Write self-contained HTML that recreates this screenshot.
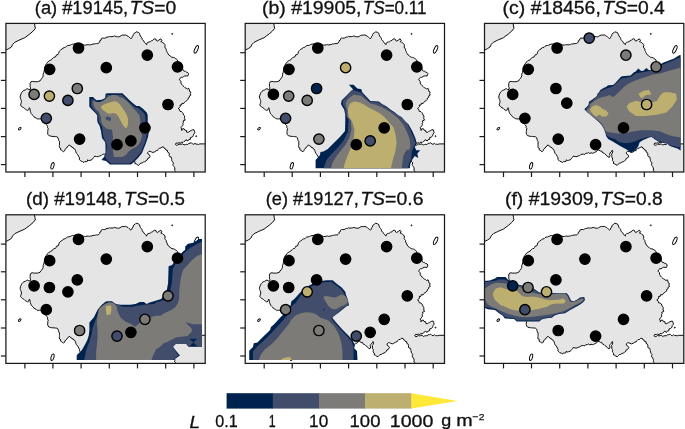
<!DOCTYPE html>
<html><head><meta charset="utf-8"><style>
html,body{margin:0;padding:0;background:#fff;}
svg{display:block;will-change:transform;}
text{font-family:"Liberation Sans",sans-serif;font-size:18px;fill:#111;stroke:#111;stroke-width:0.3px;}
text.cb{font-size:16.5px;}
</style></head><body>
<svg width="685" height="429" viewBox="0 0 685 429">
<defs>
<clipPath id="dom"><rect x="0" y="0" width="202" height="168.5"/></clipPath>
<path id="landfill" d="M20.1,97.0 L20.6,95.0 L21.4,93.2 L21.9,92.2 L22.7,91.3 L23.9,90.4 L25.3,90.0 L26.6,89.0 L27.8,88.7 L28.9,89.6 L30.4,89.4 L30.6,87.8 L30.1,86.8 L30.2,85.2 L30.1,83.6 L31.0,81.7 L32.6,81.4 L34.2,81.7 L35.8,81.7 L37.4,81.7 L38.7,81.3 L40.0,81.0 L40.7,79.5 L41.9,78.5 L42.6,77.2 L43.2,75.9 L43.1,74.2 L43.8,72.7 L44.1,71.1 L44.5,69.5 L44.5,68.1 L44.8,66.9 L45.4,65.7 L45.8,64.4 L46.8,63.7 L47.3,62.5 L48.3,61.8 L49.1,60.8 L50.3,60.3 L51.5,59.8 L52.2,58.6 L53.2,58.0 L54.0,57.2 L55.3,57.1 L56.0,56.0 L56.5,54.8 L58.0,54.6 L58.6,53.5 L59.2,51.5 L60.1,50.5 L61.1,49.5 L62.4,49.0 L63.1,48.0 L64.2,47.5 L65.5,47.3 L66.3,46.4 L67.5,45.6 L68.9,45.5 L70.2,45.1 L71.4,44.5 L72.6,44.1 L73.8,44.1 L75.0,43.8 L76.1,43.4 L77.3,43.4 L78.4,43.9 L79.7,43.8 L80.8,44.6 L82.0,44.5 L83.2,44.7 L84.4,45.1 L85.7,45.1 L86.9,44.8 L88.2,44.6 L89.5,45.0 L90.7,44.6 L91.9,44.6 L93.0,43.9 L94.2,44.0 L95.4,43.7 L96.6,43.5 L97.8,43.6 L98.9,42.9 L99.7,42.0 L99.8,40.7 L101.1,40.1 L101.2,38.8 L102.3,38.1 L103.5,38.1 L104.8,38.2 L105.9,37.6 L107.0,37.0 L108.2,37.1 L109.3,36.4 L110.6,36.7 L112.0,36.6 L113.3,36.5 L114.6,35.9 L116.4,36.7 L117.6,36.7 L118.8,36.9 L119.9,36.4 L121.3,35.5 L122.8,35.0 L124.3,35.2 L125.7,34.9 L126.9,35.6 L128.1,36.2 L129.0,37.1 L130.1,37.9 L131.0,38.8 L131.9,37.8 L132.2,36.4 L133.2,35.7 L133.3,34.5 L133.9,33.5 L135.2,32.8 L136.2,31.8 L138.3,32.4 L139.5,33.3 L139.8,34.7 L140.4,36.0 L141.2,37.1 L142.1,38.2 L142.2,39.5 L142.9,40.4 L144.0,41.2 L144.4,42.3 L145.3,43.0 L145.9,44.0 L146.8,44.6 L146.9,43.2 L147.9,42.3 L149.1,42.0 L150.3,41.7 L151.3,40.8 L152.6,40.5 L153.5,39.3 L154.9,38.8 L156.0,39.2 L156.3,40.5 L157.3,41.1 L159.0,40.0 L160.8,38.8 L161.9,40.5 L160.8,41.7 L162.1,41.9 L163.1,42.9 L164.2,43.5 L164.9,44.6 L165.2,45.7 L164.8,47.0 L165.4,48.1 L166.3,49.1 L166.3,50.5 L166.9,51.5 L167.3,52.6 L167.9,53.6 L168.8,55.0 L170.2,55.9 L171.0,56.7 L172.0,57.3 L173.2,57.4 L174.3,57.7 L175.3,58.4 L176.3,59.0 L177.3,59.9 L177.8,61.3 L178.7,62.3 L180.0,63.0 L180.8,63.8 L181.3,64.8 L181.8,65.9 L182.0,67.0 L182.7,68.1 L182.8,69.3 L183.2,70.5 L184.2,71.1 L185.4,71.3 L186.3,72.1 L187.7,72.4 L188.6,73.6 L188.3,74.8 L187.9,75.9 L186.4,76.0 L184.8,75.9 L183.6,76.6 L182.5,77.4 L181.2,77.3 L180.2,78.2 L179.4,79.8 L180.9,81.3 L180.9,82.9 L181.7,84.4 L182.8,85.6 L184.0,86.7 L185.0,87.7 L186.3,88.2 L187.2,89.1 L188.8,88.4 L189.4,89.8 L189.5,91.4 L190.9,92.1 L190.3,93.6 L190.9,95.1 L189.5,95.8 L189.4,97.4 L188.1,98.1 L187.9,99.6 L186.8,100.7 L185.5,101.4 L184.5,102.3 L183.8,103.5 L182.0,103.3 L181.6,105.0 L180.0,105.0 L180.2,106.6 L179.3,107.7 L178.2,108.6 L179.4,109.2 L179.7,110.3 L180.0,111.4 L181.6,111.6 L182.5,112.5 L183.2,113.6 L183.6,115.0 L184.7,116.0 L184.5,117.3 L184.5,118.6 L185.2,120.1 L183.1,120.9 L183.6,122.3 L182.8,123.3 L183.2,124.8 L182.4,125.8 L181.7,126.8 L180.9,127.7 L181.6,129.0 L181.8,130.5 L182.3,129.0 L183.9,128.6 L184.7,130.1 L186.4,130.4 L186.6,132.1 L188.2,132.3 L189.1,131.6 L190.1,131.1 L191.3,130.4 L192.5,129.8 L193.9,129.7 L194.4,131.1 L194.9,132.8 L193.7,134.1 L193.4,135.3 L192.9,136.4 L191.9,137.2 L190.4,137.5 L190.3,139.4 L188.8,139.6 L187.9,141.0 L186.0,139.7 L185.1,141.0 L183.9,141.5 L182.9,142.5 L181.4,142.0 L180.5,143.4 L179.0,142.7 L177.8,143.2 L176.2,143.0 L175.4,144.5 L176.6,145.3 L177.9,144.9 L179.1,144.0 L180.3,144.5 L181.5,144.2 L182.8,143.8 L184.0,145.1 L185.2,144.5 L186.4,144.3 L187.8,144.5 L188.8,143.3 L190.1,143.3 L191.3,142.7 L192.6,144.0 L193.8,144.3 L195.0,143.3 L196.1,144.2 L197.4,144.2 L198.6,144.4 L199.9,143.9 L210.0,143.9 L210.0,180.0 L175.4,180.0 L175.4,172.6 L175.7,171.3 L174.5,170.3 L174.9,169.0 L174.7,167.8 L174.1,166.6 L173.2,165.6 L172.9,164.3 L173.5,162.9 L172.5,161.9 L171.9,160.7 L171.7,159.3 L171.4,158.2 L171.2,157.0 L169.7,156.6 L169.2,155.6 L169.3,154.0 L168.8,152.7 L167.4,151.9 L167.5,150.4 L165.9,150.0 L165.5,148.8 L164.2,148.3 L163.7,147.0 L161.9,147.0 L160.9,148.1 L159.4,148.2 L158.2,149.4 L157.6,150.5 L156.3,150.7 L154.5,151.9 L152.9,152.5 L151.4,151.9 L150.3,151.4 L149.0,151.3 L147.8,152.5 L147.8,153.8 L149.0,154.4 L150.2,156.2 L149.0,158.0 L147.6,158.5 L147.2,159.9 L146.0,160.8 L144.7,161.7 L143.3,162.1 L142.2,163.0 L140.7,163.1 L139.8,164.2 L138.7,165.3 L137.3,164.8 L136.2,163.9 L134.9,163.5 L135.0,161.7 L133.7,160.5 L134.0,159.2 L133.8,158.0 L133.1,156.8 L133.3,155.6 L132.9,154.2 L133.7,153.1 L134.2,151.6 L133.7,150.1 L133.3,151.2 L132.4,151.9 L131.6,153.0 L130.9,154.2 L131.5,155.6 L130.6,157.5 L129.2,156.6 L128.1,155.8 L127.3,154.7 L126.3,154.1 L125.5,153.3 L123.6,152.4 L123.1,151.0 L121.7,151.0 L120.3,150.0 L118.9,150.3 L118.0,151.4 L116.1,152.4 L114.9,153.0 L113.7,153.2 L112.4,152.8 L111.2,153.5 L109.9,152.6 L108.7,153.3 L107.3,153.2 L106.3,154.4 L104.9,154.2 L103.5,154.2 L102.2,154.5 L101.2,155.6 L99.7,155.9 L98.4,156.6 L96.5,156.6 L94.6,156.1 L94.1,157.2 L93.2,158.0 L92.4,158.9 L91.8,159.8 L90.0,160.3 L88.7,160.6 L87.6,159.8 L87.5,161.2 L86.2,161.7 L84.8,161.5 L83.9,162.6 L82.6,161.7 L81.1,161.2 L80.2,160.3 L79.2,159.4 L79.6,157.9 L78.7,156.6 L77.8,154.7 L76.4,153.3 L75.9,151.9 L75.5,150.5 L74.9,149.2 L73.6,148.6 L73.2,147.5 L71.8,147.3 L71.3,146.2 L70.1,145.8 L69.2,144.8 L68.4,146.1 L67.1,146.9 L66.7,148.0 L65.6,148.6 L65.0,149.6 L64.6,150.8 L63.7,151.7 L62.6,151.1 L61.6,150.3 L60.5,149.7 L60.7,148.1 L59.5,147.6 L59.3,146.4 L59.4,145.3 L59.5,144.1 L59.4,142.9 L59.6,141.7 L58.8,140.6 L58.4,139.2 L58.1,137.8 L56.9,136.8 L55.3,136.6 L54.1,136.5 L53.0,136.4 L51.8,136.4 L50.4,136.0 L49.0,135.7 L48.0,134.5 L47.6,132.9 L47.8,131.5 L47.8,130.1 L48.3,128.7 L47.5,127.7 L47.6,126.3 L46.9,125.2 L46.0,124.3 L45.4,123.1 L44.9,122.0 L44.0,121.0 L42.9,120.3 L41.7,119.7 L40.6,118.9 L39.4,118.9 L38.3,118.9 L37.1,118.9 L36.2,118.0 L35.0,117.5 L33.9,116.8 L33.2,115.6 L32.2,114.7 L31.3,113.8 L30.8,112.6 L30.3,111.2 L30.1,109.8 L29.9,108.7 L29.4,107.7 L29.0,108.7 L28.7,109.8 L27.3,110.5 L26.3,109.8 L25.2,109.1 L24.4,108.3 L23.5,107.6 L22.4,107.2 L21.4,106.1 L20.5,104.9 L20.9,103.8 L21.2,102.7 L21.5,101.6 L21.2,100.4 L20.9,99.3 L20.4,98.2 Z M34.5,15.0 L34.5,23.4 L34.9,26.0 L35.3,28.5 L33.2,31.0 L29.9,33.9 L24.8,37.7 L19.0,40.2 L14.8,42.3 L12.7,44.4 L11.4,47.0 L8.9,48.6 L5.9,50.1 L0.0,50.1 L0.0,15.0 Z" fill="#e5e5e5"/>
<g id="landline" fill="none" stroke="#000" stroke-width="0.95" stroke-linejoin="round"><path d="M20.1,97.0 L20.6,95.0 L21.4,93.2 L21.9,92.2 L22.7,91.3 L23.9,90.4 L25.3,90.0 L26.6,89.0 L27.8,88.7 L28.9,89.6 L30.4,89.4 L30.6,87.8 L30.1,86.8 L30.2,85.2 L30.1,83.6 L31.0,81.7 L32.6,81.4 L34.2,81.7 L35.8,81.7 L37.4,81.7 L38.7,81.3 L40.0,81.0 L40.7,79.5 L41.9,78.5 L42.6,77.2 L43.2,75.9 L43.1,74.2 L43.8,72.7 L44.1,71.1 L44.5,69.5 L44.5,68.1 L44.8,66.9 L45.4,65.7 L45.8,64.4 L46.8,63.7 L47.3,62.5 L48.3,61.8 L49.1,60.8 L50.3,60.3 L51.5,59.8 L52.2,58.6 L53.2,58.0 L54.0,57.2 L55.3,57.1 L56.0,56.0 L56.5,54.8 L58.0,54.6 L58.6,53.5 L59.2,51.5 L60.1,50.5 L61.1,49.5 L62.4,49.0 L63.1,48.0 L64.2,47.5 L65.5,47.3 L66.3,46.4 L67.5,45.6 L68.9,45.5 L70.2,45.1 L71.4,44.5 L72.6,44.1 L73.8,44.1 L75.0,43.8 L76.1,43.4 L77.3,43.4 L78.4,43.9 L79.7,43.8 L80.8,44.6 L82.0,44.5 L83.2,44.7 L84.4,45.1 L85.7,45.1 L86.9,44.8 L88.2,44.6 L89.5,45.0 L90.7,44.6 L91.9,44.6 L93.0,43.9 L94.2,44.0 L95.4,43.7 L96.6,43.5 L97.8,43.6 L98.9,42.9 L99.7,42.0 L99.8,40.7 L101.1,40.1 L101.2,38.8 L102.3,38.1 L103.5,38.1 L104.8,38.2 L105.9,37.6 L107.0,37.0 L108.2,37.1 L109.3,36.4 L110.6,36.7 L112.0,36.6 L113.3,36.5 L114.6,35.9 L116.4,36.7 L117.6,36.7 L118.8,36.9 L119.9,36.4 L121.3,35.5 L122.8,35.0 L124.3,35.2 L125.7,34.9 L126.9,35.6 L128.1,36.2 L129.0,37.1 L130.1,37.9 L131.0,38.8 L131.9,37.8 L132.2,36.4 L133.2,35.7 L133.3,34.5 L133.9,33.5 L135.2,32.8 L136.2,31.8 L138.3,32.4 L139.5,33.3 L139.8,34.7 L140.4,36.0 L141.2,37.1 L142.1,38.2 L142.2,39.5 L142.9,40.4 L144.0,41.2 L144.4,42.3 L145.3,43.0 L145.9,44.0 L146.8,44.6 L146.9,43.2 L147.9,42.3 L149.1,42.0 L150.3,41.7 L151.3,40.8 L152.6,40.5 L153.5,39.3 L154.9,38.8 L156.0,39.2 L156.3,40.5 L157.3,41.1 L159.0,40.0 L160.8,38.8 L161.9,40.5 L160.8,41.7 L162.1,41.9 L163.1,42.9 L164.2,43.5 L164.9,44.6 L165.2,45.7 L164.8,47.0 L165.4,48.1 L166.3,49.1 L166.3,50.5 L166.9,51.5 L167.3,52.6 L167.9,53.6 L168.8,55.0 L170.2,55.9 L171.0,56.7 L172.0,57.3 L173.2,57.4 L174.3,57.7 L175.3,58.4 L176.3,59.0 L177.3,59.9 L177.8,61.3 L178.7,62.3 L180.0,63.0 L180.8,63.8 L181.3,64.8 L181.8,65.9 L182.0,67.0 L182.7,68.1 L182.8,69.3 L183.2,70.5 L184.2,71.1 L185.4,71.3 L186.3,72.1 L187.7,72.4 L188.6,73.6 L188.3,74.8 L187.9,75.9 L186.4,76.0 L184.8,75.9 L183.6,76.6 L182.5,77.4 L181.2,77.3 L180.2,78.2 L179.4,79.8 L180.9,81.3 L180.9,82.9 L181.7,84.4 L182.8,85.6 L184.0,86.7 L185.0,87.7 L186.3,88.2 L187.2,89.1 L188.8,88.4 L189.4,89.8 L189.5,91.4 L190.9,92.1 L190.3,93.6 L190.9,95.1 L189.5,95.8 L189.4,97.4 L188.1,98.1 L187.9,99.6 L186.8,100.7 L185.5,101.4 L184.5,102.3 L183.8,103.5 L182.0,103.3 L181.6,105.0 L180.0,105.0 L180.2,106.6 L179.3,107.7 L178.2,108.6 L179.4,109.2 L179.7,110.3 L180.0,111.4 L181.6,111.6 L182.5,112.5 L183.2,113.6 L183.6,115.0 L184.7,116.0 L184.5,117.3 L184.5,118.6 L185.2,120.1 L183.1,120.9 L183.6,122.3 L182.8,123.3 L183.2,124.8 L182.4,125.8 L181.7,126.8 L180.9,127.7 L181.6,129.0 L181.8,130.5 L182.3,129.0 L183.9,128.6 L184.7,130.1 L186.4,130.4 L186.6,132.1 L188.2,132.3 L189.1,131.6 L190.1,131.1 L191.3,130.4 L192.5,129.8 L193.9,129.7 L194.4,131.1 L194.9,132.8 L193.7,134.1 L193.4,135.3 L192.9,136.4 L191.9,137.2 L190.4,137.5 L190.3,139.4 L188.8,139.6 L187.9,141.0 L186.0,139.7 L185.1,141.0 L183.9,141.5 L182.9,142.5 L181.4,142.0 L180.5,143.4 L179.0,142.7 L177.8,143.2 L176.2,143.0 L175.4,144.5 L176.6,145.3 L177.9,144.9 L179.1,144.0 L180.3,144.5 L181.5,144.2 L182.8,143.8 L184.0,145.1 L185.2,144.5 L186.4,144.3 L187.8,144.5 L188.8,143.3 L190.1,143.3 L191.3,142.7 L192.6,144.0 L193.8,144.3 L195.0,143.3 L196.1,144.2 L197.4,144.2 L198.6,144.4 L199.9,143.9 L210.0,143.9 L210.0,180.0 L175.4,180.0 L175.4,172.6 L175.7,171.3 L174.5,170.3 L174.9,169.0 L174.7,167.8 L174.1,166.6 L173.2,165.6 L172.9,164.3 L173.5,162.9 L172.5,161.9 L171.9,160.7 L171.7,159.3 L171.4,158.2 L171.2,157.0 L169.7,156.6 L169.2,155.6 L169.3,154.0 L168.8,152.7 L167.4,151.9 L167.5,150.4 L165.9,150.0 L165.5,148.8 L164.2,148.3 L163.7,147.0 L161.9,147.0 L160.9,148.1 L159.4,148.2 L158.2,149.4 L157.6,150.5 L156.3,150.7 L154.5,151.9 L152.9,152.5 L151.4,151.9 L150.3,151.4 L149.0,151.3 L147.8,152.5 L147.8,153.8 L149.0,154.4 L150.2,156.2 L149.0,158.0 L147.6,158.5 L147.2,159.9 L146.0,160.8 L144.7,161.7 L143.3,162.1 L142.2,163.0 L140.7,163.1 L139.8,164.2 L138.7,165.3 L137.3,164.8 L136.2,163.9 L134.9,163.5 L135.0,161.7 L133.7,160.5 L134.0,159.2 L133.8,158.0 L133.1,156.8 L133.3,155.6 L132.9,154.2 L133.7,153.1 L134.2,151.6 L133.7,150.1 L133.3,151.2 L132.4,151.9 L131.6,153.0 L130.9,154.2 L131.5,155.6 L130.6,157.5 L129.2,156.6 L128.1,155.8 L127.3,154.7 L126.3,154.1 L125.5,153.3 L123.6,152.4 L123.1,151.0 L121.7,151.0 L120.3,150.0 L118.9,150.3 L118.0,151.4 L116.1,152.4 L114.9,153.0 L113.7,153.2 L112.4,152.8 L111.2,153.5 L109.9,152.6 L108.7,153.3 L107.3,153.2 L106.3,154.4 L104.9,154.2 L103.5,154.2 L102.2,154.5 L101.2,155.6 L99.7,155.9 L98.4,156.6 L96.5,156.6 L94.6,156.1 L94.1,157.2 L93.2,158.0 L92.4,158.9 L91.8,159.8 L90.0,160.3 L88.7,160.6 L87.6,159.8 L87.5,161.2 L86.2,161.7 L84.8,161.5 L83.9,162.6 L82.6,161.7 L81.1,161.2 L80.2,160.3 L79.2,159.4 L79.6,157.9 L78.7,156.6 L77.8,154.7 L76.4,153.3 L75.9,151.9 L75.5,150.5 L74.9,149.2 L73.6,148.6 L73.2,147.5 L71.8,147.3 L71.3,146.2 L70.1,145.8 L69.2,144.8 L68.4,146.1 L67.1,146.9 L66.7,148.0 L65.6,148.6 L65.0,149.6 L64.6,150.8 L63.7,151.7 L62.6,151.1 L61.6,150.3 L60.5,149.7 L60.7,148.1 L59.5,147.6 L59.3,146.4 L59.4,145.3 L59.5,144.1 L59.4,142.9 L59.6,141.7 L58.8,140.6 L58.4,139.2 L58.1,137.8 L56.9,136.8 L55.3,136.6 L54.1,136.5 L53.0,136.4 L51.8,136.4 L50.4,136.0 L49.0,135.7 L48.0,134.5 L47.6,132.9 L47.8,131.5 L47.8,130.1 L48.3,128.7 L47.5,127.7 L47.6,126.3 L46.9,125.2 L46.0,124.3 L45.4,123.1 L44.9,122.0 L44.0,121.0 L42.9,120.3 L41.7,119.7 L40.6,118.9 L39.4,118.9 L38.3,118.9 L37.1,118.9 L36.2,118.0 L35.0,117.5 L33.9,116.8 L33.2,115.6 L32.2,114.7 L31.3,113.8 L30.8,112.6 L30.3,111.2 L30.1,109.8 L29.9,108.7 L29.4,107.7 L29.0,108.7 L28.7,109.8 L27.3,110.5 L26.3,109.8 L25.2,109.1 L24.4,108.3 L23.5,107.6 L22.4,107.2 L21.4,106.1 L20.5,104.9 L20.9,103.8 L21.2,102.7 L21.5,101.6 L21.2,100.4 L20.9,99.3 L20.4,98.2 Z M34.5,15.0 L34.5,23.4 L34.9,26.0 L35.3,28.5 L33.2,31.0 L29.9,33.9 L24.8,37.7 L19.0,40.2 L14.8,42.3 L12.7,44.4 L11.4,47.0 L8.9,48.6 L5.9,50.1 L0.0,50.1 L0.0,15.0 Z"/><ellipse cx="196.3" cy="49.4" rx="1.5" ry="4.1" transform="rotate(25 196.3 49.4)"/>
<ellipse cx="172.2" cy="33.9" rx="0.5" ry="0.5"/>
<ellipse cx="19.7" cy="128.7" rx="1.6" ry="0.9" transform="rotate(-40 19.7 128.7)"/>
<ellipse cx="52.5" cy="165.8" rx="1.4" ry="3.4" transform="rotate(15 52.5 165.8)"/>
<ellipse cx="196.2" cy="136.2" rx="0.5" ry="0.5"/></g>
</defs>
<g transform="translate(0,0)">
<clipPath id="cpa"><rect x="5.9" y="23.4" width="199.29999999999998" height="148.6"/></clipPath>
<g clip-path="url(#cpa)">
<use href="#landfill"/>
<use href="#landline"/>
<g clip-path="url(#dom)">
<path d="M89.3,97.0 L93.0,97.0 L96.3,100.3 L101.9,99.8 L105.2,97.9 L105.6,93.7 L107.5,93.3 L122.4,93.3 L125.3,96.1 L129.0,99.8 L133.2,103.6 L136.5,105.9 L139.3,105.9 L143.0,108.7 L146.7,112.4 L147.7,115.2 L147.7,121.8 L149.5,125.0 L150.5,127.0 L149.0,131.0 L148.0,137.0 L146.0,143.0 L144.0,148.0 L142.0,153.0 L138.0,158.0 L134.0,162.0 L131.0,164.5 L110.0,164.5 L106.0,161.0 L101.5,160.0 L104.0,157.0 L105.5,153.0 L105.5,145.0 L105.0,142.0 L102.0,138.0 L101.0,131.0 L99.5,125.5 L97.7,122.7 L97.2,119.9 L97.2,115.2 L94.9,112.4 L91.6,109.2 L89.3,106.4 Z" fill="#00224e"/>
<path d="M91.3,99.6 L94.0,99.4 L96.8,102.2 L102.6,101.8 L106.3,98.8 L106.8,94.9 L122.0,94.7 L124.3,97.2 L128.0,100.9 L132.2,104.8 L135.5,107.6 L138.0,107.7 L141.5,110.6 L144.6,113.9 L145.4,116.4 L145.5,121.8 L148.0,125.0 L149.5,127.0 L147.5,131.0 L146.5,136.0 L145.0,142.0 L143.0,147.0 L141.0,152.0 L137.0,157.0 L133.0,161.0 L129.5,163.5 L111.0,163.5 L107.0,160.0 L105.0,157.0 L106.0,153.0 L107.0,145.0 L105.5,142.0 L103.5,137.0 L102.5,131.0 L101.5,125.5 L99.1,122.7 L98.6,119.9 L98.1,114.8 L95.8,112.0 L93.0,108.7 L91.2,105.9 Z" fill="#414d6b"/>
<path d="M93.0,101.2 L96.3,102.1 L100.0,102.1 L103.8,100.3 L108.4,96.5 L112.2,95.1 L115.9,95.1 L119.6,97.0 L123.4,98.4 L127.1,101.2 L130.9,105.4 L133.7,108.7 L136.5,111.5 L139.3,115.2 L140.2,119.0 L140.2,122.7 L139.3,126.4 L139.5,127.0 L141.0,131.0 L142.0,136.0 L141.0,140.0 L139.0,144.0 L136.0,147.0 L132.0,149.0 L128.0,152.0 L126.0,155.0 L122.0,157.0 L114.0,157.0 L113.0,151.0 L112.5,145.0 L113.0,137.0 L112.0,129.5 L107.0,129.0 L103.5,126.0 L102.4,124.6 L101.4,121.8 L101.0,118.0 L100.0,114.3 L98.1,111.0 L95.3,108.7 L93.5,105.0 Z" fill="#7c7b78"/>
<path d="M105.2,117.6 L107.5,116.6 L111.2,117.6 L110.8,120.4 L108.4,120.8 L106.1,119.4 Z" fill="#414d6b"/>
<path d="M101.0,106.4 L102.8,105.0 L107.5,103.1 L111.2,102.1 L114.0,101.2 L116.8,101.7 L119.6,104.0 L122.0,107.3 L124.3,110.6 L126.7,114.8 L128.1,119.0 L128.1,123.6 L127.1,127.4 L125.3,127.9 L122.4,124.6 L120.6,120.8 L118.7,117.1 L116.8,114.3 L114.0,112.9 L111.2,113.4 L108.4,113.8 L105.6,112.0 L102.8,110.1 L101.4,108.2 Z" fill="#bcaf6f"/>
</g>
<circle cx="49.7" cy="69.3" r="5.15" fill="#000" stroke="#000" stroke-width="1.4"/>
<circle cx="78.5" cy="48.0" r="5.15" fill="#000" stroke="#000" stroke-width="1.4"/>
<circle cx="147.3" cy="55.2" r="5.15" fill="#000" stroke="#000" stroke-width="1.4"/>
<circle cx="106.3" cy="67.7" r="5.15" fill="#000" stroke="#000" stroke-width="1.4"/>
<circle cx="177.5" cy="66.8" r="5.15" fill="#000" stroke="#000" stroke-width="1.4"/>
<circle cx="168.0" cy="104.5" r="5.15" fill="#000" stroke="#000" stroke-width="1.4"/>
<circle cx="79.6" cy="139.1" r="5.15" fill="#000" stroke="#000" stroke-width="1.4"/>
<circle cx="144.9" cy="127.9" r="5.15" fill="#000" stroke="#000" stroke-width="1.4"/>
<circle cx="130.9" cy="140.9" r="5.15" fill="#000" stroke="#000" stroke-width="1.4"/>
<circle cx="117.0" cy="144.7" r="5.15" fill="#000" stroke="#000" stroke-width="1.4"/>
<circle cx="34.1" cy="94.4" r="5.15" fill="#7c7b78" stroke="#000" stroke-width="1.4"/>
<circle cx="49.4" cy="96.1" r="5.15" fill="#bcaf6f" stroke="#000" stroke-width="1.4"/>
<circle cx="77.3" cy="88.5" r="5.15" fill="#7c7b78" stroke="#000" stroke-width="1.4"/>
<circle cx="67.9" cy="100.4" r="5.15" fill="#414d6b" stroke="#000" stroke-width="1.4"/>
<circle cx="46.3" cy="118.3" r="5.15" fill="#414d6b" stroke="#000" stroke-width="1.4"/>
</g>
<rect x="5.9" y="23.4" width="199.29999999999998" height="148.6" fill="none" stroke="#1a1a1a" stroke-width="1.25"/>
<line x1="0.9000000000000004" y1="52.7" x2="5.9" y2="52.7" stroke="#1a1a1a" stroke-width="1.2"/>
<line x1="0.9000000000000004" y1="80.4" x2="5.9" y2="80.4" stroke="#1a1a1a" stroke-width="1.2"/>
<line x1="0.9000000000000004" y1="108.4" x2="5.9" y2="108.4" stroke="#1a1a1a" stroke-width="1.2"/>
<line x1="0.9000000000000004" y1="136.6" x2="5.9" y2="136.6" stroke="#1a1a1a" stroke-width="1.2"/>
<line x1="0.9000000000000004" y1="164.6" x2="5.9" y2="164.6" stroke="#1a1a1a" stroke-width="1.2"/>
<line x1="24.9" y1="172.0" x2="24.9" y2="177.0" stroke="#1a1a1a" stroke-width="1.2"/>
<line x1="52.9" y1="172.0" x2="52.9" y2="177.0" stroke="#1a1a1a" stroke-width="1.2"/>
<line x1="81.1" y1="172.0" x2="81.1" y2="177.0" stroke="#1a1a1a" stroke-width="1.2"/>
<line x1="109.3" y1="172.0" x2="109.3" y2="177.0" stroke="#1a1a1a" stroke-width="1.2"/>
<line x1="137.5" y1="172.0" x2="137.5" y2="177.0" stroke="#1a1a1a" stroke-width="1.2"/>
<line x1="165.7" y1="172.0" x2="165.7" y2="177.0" stroke="#1a1a1a" stroke-width="1.2"/>
<line x1="193.9" y1="172.0" x2="193.9" y2="177.0" stroke="#1a1a1a" stroke-width="1.2"/>
<text x="34.80" y="14.0" textLength="93.40" lengthAdjust="spacingAndGlyphs">(a) #19145,</text>
<text x="129.50" y="14.0" textLength="46.70" lengthAdjust="spacingAndGlyphs"><tspan font-style="italic">TS</tspan>=0</text>
</g>
<g transform="translate(239.3,0)">
<clipPath id="cpb"><rect x="5.9" y="23.4" width="199.29999999999998" height="148.6"/></clipPath>
<g clip-path="url(#cpb)">
<use href="#landfill"/>
<use href="#landline"/>
<g clip-path="url(#dom)">
<path d="M76.3,168.5 L76.3,160.0 L80.6,155.2 L81.2,152.1 L84.2,151.5 L88.5,149.1 L94.5,143.0 L100.6,137.0 L105.7,130.9 L106.0,120.0 L105.9,114.6 L104.9,109.4 L102.8,106.2 L101.7,104.1 L102.3,100.5 L107.0,95.7 L111.2,91.5 L113.8,89.4 L109.6,84.7 L114.3,84.7 L118.0,88.4 L122.2,89.2 L122.7,92.1 L131.1,101.0 L139.5,101.5 L142.7,104.1 L146.9,106.2 L151.1,109.4 L155.7,112.5 L160.0,116.5 L163.5,120.0 L169.0,124.0 L173.0,131.0 L176.0,138.0 L177.5,143.3 L175.5,147.0 L177.0,150.3 L181.0,150.3 L178.0,153.5 L179.0,158.0 L175.5,156.0 L173.0,159.5 L171.0,164.0 L170.5,168.5 Z" fill="#00224e"/>
<path d="M84.2,168.5 L87.2,160.0 L92.1,153.9 L98.2,147.9 L104.2,140.6 L108.5,132.1 L109.1,120.0 L106.5,114.6 L105.9,108.3 L103.8,105.2 L103.3,101.0 L107.0,96.8 L112.2,90.5 L113.3,90.0 L121.7,92.6 L130.1,101.5 L139.5,102.6 L146.9,107.3 L153.2,111.5 L157.0,114.0 L162.4,117.0 L168.2,123.7 L171.8,131.7 L174.7,138.2 L176.2,143.3 L174.0,147.6 L172.5,152.0 L171.8,159.2 L169.6,163.5 L168.9,168.5 Z" fill="#414d6b"/>
<path d="M91.5,168.5 L93.3,162.4 L96.9,156.4 L101.8,150.3 L106.6,144.2 L110.3,137.0 L112.1,129.7 L111.5,120.0 L108.0,116.7 L108.6,111.5 L107.0,107.3 L106.5,102.6 L109.1,98.4 L114.3,94.7 L121.7,95.7 L126.9,99.9 L131.1,103.6 L136.4,104.7 L142.7,107.3 L150.0,111.5 L155.7,115.7 L159.5,119.0 L163.9,124.5 L167.5,131.7 L170.4,138.9 L171.1,146.2 L169.6,150.5 L166.0,152.0 L163.9,156.3 L163.1,163.5 L162.4,168.5 Z" fill="#7c7b78"/>
<path d="M166.5,150.5 L169.0,149.5 L169.5,152.0 L167.0,153.0 Z" fill="#414d6b"/>
<path d="M104.2,168.5 L105.4,163.6 L107.9,156.4 L111.5,147.9 L114.5,138.2 L115.2,129.7 L113.0,122.0 L110.0,117.8 L108.5,112.5 L109.1,107.3 L111.2,103.1 L115.4,101.5 L120.6,102.6 L124.8,104.7 L129.0,107.3 L135.3,110.4 L140.6,113.6 L144.8,116.7 L149.0,121.5 L152.1,125.0 L154.4,127.4 L156.6,136.0 L157.3,143.3 L155.9,152.0 L153.7,159.2 L151.6,168.5 Z" fill="#bcaf6f"/>
</g>
<circle cx="49.7" cy="69.3" r="5.15" fill="#000" stroke="#000" stroke-width="1.4"/>
<circle cx="78.5" cy="48.0" r="5.15" fill="#000" stroke="#000" stroke-width="1.4"/>
<circle cx="147.3" cy="55.2" r="5.15" fill="#000" stroke="#000" stroke-width="1.4"/>
<circle cx="106.3" cy="67.7" r="5.15" fill="#bcaf6f" stroke="#000" stroke-width="1.4"/>
<circle cx="177.5" cy="66.8" r="5.15" fill="#000" stroke="#000" stroke-width="1.4"/>
<circle cx="168.0" cy="104.5" r="5.15" fill="#000" stroke="#000" stroke-width="1.4"/>
<circle cx="79.6" cy="139.1" r="5.15" fill="#7c7b78" stroke="#000" stroke-width="1.4"/>
<circle cx="144.9" cy="127.9" r="5.15" fill="#000" stroke="#000" stroke-width="1.4"/>
<circle cx="130.9" cy="140.9" r="5.15" fill="#414d6b" stroke="#000" stroke-width="1.4"/>
<circle cx="117.0" cy="144.7" r="5.15" fill="#000" stroke="#000" stroke-width="1.4"/>
<circle cx="34.1" cy="94.4" r="5.15" fill="#000" stroke="#000" stroke-width="1.4"/>
<circle cx="49.4" cy="96.1" r="5.15" fill="#7c7b78" stroke="#000" stroke-width="1.4"/>
<circle cx="77.3" cy="88.5" r="5.15" fill="#00224e" stroke="#000" stroke-width="1.4"/>
<circle cx="67.9" cy="100.4" r="5.15" fill="#7c7b78" stroke="#000" stroke-width="1.4"/>
<circle cx="46.3" cy="118.3" r="5.15" fill="#414d6b" stroke="#000" stroke-width="1.4"/>
</g>
<rect x="5.9" y="23.4" width="199.29999999999998" height="148.6" fill="none" stroke="#1a1a1a" stroke-width="1.25"/>
<line x1="0.9000000000000004" y1="52.7" x2="5.9" y2="52.7" stroke="#1a1a1a" stroke-width="1.2"/>
<line x1="0.9000000000000004" y1="80.4" x2="5.9" y2="80.4" stroke="#1a1a1a" stroke-width="1.2"/>
<line x1="0.9000000000000004" y1="108.4" x2="5.9" y2="108.4" stroke="#1a1a1a" stroke-width="1.2"/>
<line x1="0.9000000000000004" y1="136.6" x2="5.9" y2="136.6" stroke="#1a1a1a" stroke-width="1.2"/>
<line x1="0.9000000000000004" y1="164.6" x2="5.9" y2="164.6" stroke="#1a1a1a" stroke-width="1.2"/>
<line x1="24.9" y1="172.0" x2="24.9" y2="177.0" stroke="#1a1a1a" stroke-width="1.2"/>
<line x1="52.9" y1="172.0" x2="52.9" y2="177.0" stroke="#1a1a1a" stroke-width="1.2"/>
<line x1="81.1" y1="172.0" x2="81.1" y2="177.0" stroke="#1a1a1a" stroke-width="1.2"/>
<line x1="109.3" y1="172.0" x2="109.3" y2="177.0" stroke="#1a1a1a" stroke-width="1.2"/>
<line x1="137.5" y1="172.0" x2="137.5" y2="177.0" stroke="#1a1a1a" stroke-width="1.2"/>
<line x1="165.7" y1="172.0" x2="165.7" y2="177.0" stroke="#1a1a1a" stroke-width="1.2"/>
<line x1="193.9" y1="172.0" x2="193.9" y2="177.0" stroke="#1a1a1a" stroke-width="1.2"/>
<text x="22.70" y="14.0" textLength="99.50" lengthAdjust="spacingAndGlyphs">(b) #19905,</text>
<text x="123.50" y="14.0" textLength="63.80" lengthAdjust="spacingAndGlyphs"><tspan font-style="italic">TS</tspan>=0.11</text>
</g>
<g transform="translate(478.6,0)">
<clipPath id="cpc"><rect x="5.9" y="23.4" width="199.29999999999998" height="148.6"/></clipPath>
<g clip-path="url(#cpc)">
<use href="#landfill"/>
<use href="#landline"/>
<g clip-path="url(#dom)">
<path d="M203.0,55.0 L201.3,55.0 L199.8,55.7 L195.5,58.6 L189.6,60.8 L183.8,63.0 L179.4,66.0 L173.6,69.6 L170.6,70.3 L167.7,68.1 L164.8,70.8 L162.6,71.1 L159.7,68.4 L156.8,71.8 L155.4,72.3 L151.9,75.5 L143.5,76.2 L142.1,76.9 L136.5,83.2 L134.4,84.9 L129.5,85.3 L127.4,87.0 L125.4,87.8 L121.7,90.0 L120.6,92.0 L118.8,93.9 L118.3,96.2 L113.7,99.5 L110.4,101.8 L109.9,105.1 L105.7,109.2 L109.0,112.5 L113.7,116.2 L117.4,119.5 L121.1,122.8 L123.9,126.0 L125.8,129.3 L126.7,132.0 L127.5,136.0 L129.5,139.0 L135.0,141.9 L142.0,146.3 L147.2,148.9 L152.5,152.4 L156.9,150.1 L159.5,146.5 L161.1,142.3 L164.2,140.2 L170.5,137.6 L173.1,137.0 L176.8,139.7 L181.0,142.3 L186.3,143.3 L189.4,143.8 L190.5,145.4 L192.6,146.5 L195.7,147.5 L198.9,148.6 L203.0,151.2 Z" fill="#00224e"/>
<path d="M203.0,57.5 L199.8,57.9 L195.5,60.1 L188.2,63.0 L180.9,66.0 L175.0,70.3 L168.0,71.5 L160.5,72.8 L156.8,73.5 L152.6,76.8 L142.8,78.5 L134.4,86.3 L127.4,88.8 L122.0,91.0 L119.5,94.5 L115.0,99.8 L111.5,102.5 L107.3,109.3 L108.2,111.5 L112.5,115.3 L116.5,118.8 L120.4,122.0 L123.0,125.0 L125.0,128.5 L126.5,132.5 L128.0,135.5 L131.4,137.5 L136.7,139.3 L140.2,141.9 L146.4,143.3 L151.6,142.8 L156.9,141.2 L162.1,139.1 L167.4,137.6 L171.6,136.5 L174.7,137.6 L177.9,139.7 L181.0,141.2 L186.3,142.8 L190.5,144.9 L194.7,145.9 L198.9,147.0 L203.0,147.5 Z" fill="#414d6b"/>
<path d="M203.0,68.0 L200.6,68.1 L196.9,68.9 L189.6,71.1 L182.3,73.2 L173.6,74.7 L167.4,76.9 L165.2,77.6 L161.0,79.0 L155.4,81.1 L151.9,82.5 L148.4,84.6 L145.6,86.7 L141.4,90.9 L137.2,95.1 L134.4,97.2 L130.9,95.1 L127.4,96.5 L123.9,97.1 L119.3,98.5 L115.5,101.3 L111.8,104.1 L110.9,107.9 L107.9,110.2 L110.9,113.9 L115.5,117.2 L119.7,120.4 L123.4,123.7 L125.3,127.4 L126.5,130.5 L129.0,132.0 L134.1,132.8 L140.0,133.5 L146.4,133.4 L152.7,131.8 L162.1,130.2 L172.6,130.2 L181.0,131.3 L186.3,133.4 L191.5,135.5 L195.7,136.5 L203.0,137.6 Z" fill="#7c7b78"/>
<path d="M111.3,109.2 L113.7,106.5 L117.4,105.1 L121.1,106.5 L123.9,108.8 L127.6,110.6 L130.0,113.4 L128.1,116.2 L123.9,116.7 L121.1,114.8 L117.4,116.7 L114.6,114.4 L112.3,111.6 Z" fill="#bcaf6f"/>
<path d="M150.4,103.2 L157.4,100.8 L163.2,102.0 L171.4,103.2 L178.4,100.8 L181.9,95.0 L185.2,92.2 L191.1,92.2 L197.6,93.7 L198.2,99.7 L193.6,106.7 L187.7,112.5 L178.4,114.8 L166.7,116.0 L157.4,116.0 L150.4,111.3 L148.1,106.7 Z" fill="#bcaf6f"/>
<path d="M159.7,94.0 L164.8,90.8 L170.6,90.0 L172.6,94.5 L167.7,95.0 L163.0,98.5 Z" fill="#bcaf6f"/>
</g>
<circle cx="49.7" cy="69.3" r="5.15" fill="#000" stroke="#000" stroke-width="1.4"/>
<circle cx="78.5" cy="48.0" r="5.15" fill="#000" stroke="#000" stroke-width="1.4"/>
<circle cx="147.3" cy="55.2" r="5.15" fill="#7c7b78" stroke="#000" stroke-width="1.4"/>
<circle cx="177.5" cy="66.8" r="5.15" fill="#7c7b78" stroke="#000" stroke-width="1.4"/>
<circle cx="168.0" cy="104.5" r="5.15" fill="#bcaf6f" stroke="#000" stroke-width="1.4"/>
<circle cx="79.6" cy="139.1" r="5.15" fill="#000" stroke="#000" stroke-width="1.4"/>
<circle cx="144.9" cy="127.9" r="5.15" fill="#000" stroke="#000" stroke-width="1.4"/>
<circle cx="117.0" cy="144.7" r="5.15" fill="#000" stroke="#000" stroke-width="1.4"/>
<circle cx="34.1" cy="94.4" r="5.15" fill="#000" stroke="#000" stroke-width="1.4"/>
<circle cx="77.3" cy="88.5" r="5.15" fill="#000" stroke="#000" stroke-width="1.4"/>
<circle cx="46.3" cy="118.3" r="5.15" fill="#000" stroke="#000" stroke-width="1.4"/>
<circle cx="110.6" cy="38.1" r="5.15" fill="#414d6b" stroke="#000" stroke-width="1.4"/>
<circle cx="88.2" cy="103.2" r="5.15" fill="#000" stroke="#000" stroke-width="1.4"/>
</g>
<rect x="5.9" y="23.4" width="199.29999999999998" height="148.6" fill="none" stroke="#1a1a1a" stroke-width="1.25"/>
<line x1="0.9000000000000004" y1="52.7" x2="5.9" y2="52.7" stroke="#1a1a1a" stroke-width="1.2"/>
<line x1="0.9000000000000004" y1="80.4" x2="5.9" y2="80.4" stroke="#1a1a1a" stroke-width="1.2"/>
<line x1="0.9000000000000004" y1="108.4" x2="5.9" y2="108.4" stroke="#1a1a1a" stroke-width="1.2"/>
<line x1="0.9000000000000004" y1="136.6" x2="5.9" y2="136.6" stroke="#1a1a1a" stroke-width="1.2"/>
<line x1="0.9000000000000004" y1="164.6" x2="5.9" y2="164.6" stroke="#1a1a1a" stroke-width="1.2"/>
<line x1="24.9" y1="172.0" x2="24.9" y2="177.0" stroke="#1a1a1a" stroke-width="1.2"/>
<line x1="52.9" y1="172.0" x2="52.9" y2="177.0" stroke="#1a1a1a" stroke-width="1.2"/>
<line x1="81.1" y1="172.0" x2="81.1" y2="177.0" stroke="#1a1a1a" stroke-width="1.2"/>
<line x1="109.3" y1="172.0" x2="109.3" y2="177.0" stroke="#1a1a1a" stroke-width="1.2"/>
<line x1="137.5" y1="172.0" x2="137.5" y2="177.0" stroke="#1a1a1a" stroke-width="1.2"/>
<line x1="165.7" y1="172.0" x2="165.7" y2="177.0" stroke="#1a1a1a" stroke-width="1.2"/>
<line x1="193.9" y1="172.0" x2="193.9" y2="177.0" stroke="#1a1a1a" stroke-width="1.2"/>
<text x="24.00" y="14.0" textLength="98.20" lengthAdjust="spacingAndGlyphs">(c) #18456,</text>
<text x="123.60" y="14.0" textLength="62.60" lengthAdjust="spacingAndGlyphs"><tspan font-style="italic">TS</tspan>=0.4</text>
</g>
<g transform="translate(0,191.4)">
<clipPath id="cpd"><rect x="5.9" y="23.4" width="199.29999999999998" height="148.6"/></clipPath>
<g clip-path="url(#cpd)">
<use href="#landfill"/>
<use href="#landline"/>
<g clip-path="url(#dom)">
<path d="M76.7,168.5 L76.7,163.8 L81.9,158.6 L84.9,153.4 L87.2,148.9 L88.7,144.4 L89.4,138.5 L89.4,131.0 L93.9,125.8 L97.6,118.3 L101.3,113.8 L105.8,110.1 L107.6,109.8 L111.8,109.8 L116.0,112.6 L120.2,113.3 L130.0,113.3 L135.5,112.6 L139.7,110.5 L143.9,110.5 L146.7,112.6 L149.5,111.2 L154.0,109.8 L156.3,109.2 L161.2,107.6 L164.5,102.7 L167.0,97.8 L168.1,91.3 L168.6,74.9 L172.1,73.6 L174.0,70.9 L180.1,63.5 L182.4,60.7 L185.2,58.3 L185.2,55.1 L188.0,52.3 L193.6,51.3 L195.5,49.9 L199.2,47.6 L203.0,47.6 L203.0,155.4 L188.5,155.4 L186.4,152.7 L175.7,152.7 L173.0,155.4 L174.6,157.6 L179.9,164.0 L173.5,168.5 Z" fill="#00224e"/>
<path d="M84.2,168.5 L86.4,157.9 L89.4,150.4 L91.6,142.9 L92.4,137.0 L93.9,132.5 L97.6,123.5 L98.4,118.3 L102.1,114.6 L105.8,111.6 L111.8,111.2 L117.4,113.3 L123.0,115.4 L132.7,115.4 L138.3,114.0 L143.9,113.3 L154.0,112.6 L156.3,110.9 L162.9,109.2 L167.0,106.0 L170.2,99.4 L171.9,91.3 L172.7,78.2 L175.9,71.9 L178.7,68.1 L182.4,63.5 L186.1,59.7 L190.8,56.0 L197.3,52.3 L203.0,50.0 L203.0,155.4 L188.5,155.4 L186.4,152.7 L175.7,152.7 L172.5,155.4 L174.0,157.6 L178.5,164.0 L172.5,168.5 Z" fill="#414d6b"/>
<path d="M96.1,168.5 L96.1,160.8 L96.9,153.4 L97.6,145.9 L97.6,138.5 L96.9,131.0 L97.6,123.5 L99.1,117.6 L102.1,114.6 L105.8,112.3 L109.0,110.9 L112.5,111.4 L113.9,111.8 L116.5,114.9 L117.6,120.1 L120.7,126.4 L126.0,130.6 L131.2,132.7 L134.9,135.4 L138.6,132.7 L140.7,130.6 L150.1,126.4 L155.4,124.3 L160.6,124.3 L163.8,122.2 L168.0,120.1 L172.2,118.0 L175.0,116.0 L177.5,112.5 L179.2,107.6 L179.2,101.1 L180.0,92.9 L180.8,86.4 L183.3,78.2 L187.5,73.6 L192.7,68.1 L197.3,64.4 L203.0,62.5 L203.0,132.9 L192.8,132.9 L185.3,130.7 L187.4,132.9 L191.7,137.2 L191.7,140.4 L187.4,144.7 L176.7,145.8 L172.4,147.9 L166.0,151.1 L163.8,151.7 L160.8,154.8 L156.2,157.8 L153.1,164.0 L151.5,168.5 Z" fill="#7c7b78"/>
<path d="M189.6,147.4 L197.1,147.4 L193.4,151.0 L197.1,154.9 L189.6,154.9 L193.4,151.0 Z" fill="#00224e"/>
<path d="M105.9,114.7 L111.1,114.0 L111.5,118.2 L110.4,123.1 L106.9,123.7 L105.9,119.6 Z" fill="#bcaf6f"/>
</g>
<circle cx="49.7" cy="69.3" r="5.15" fill="#000" stroke="#000" stroke-width="1.4"/>
<circle cx="78.5" cy="48.0" r="5.15" fill="#000" stroke="#000" stroke-width="1.4"/>
<circle cx="147.3" cy="55.2" r="5.15" fill="#000" stroke="#000" stroke-width="1.4"/>
<circle cx="106.3" cy="67.7" r="5.15" fill="#000" stroke="#000" stroke-width="1.4"/>
<circle cx="177.5" cy="66.8" r="5.15" fill="#000" stroke="#000" stroke-width="1.4"/>
<circle cx="168.0" cy="104.5" r="5.15" fill="#7c7b78" stroke="#000" stroke-width="1.4"/>
<circle cx="79.6" cy="139.1" r="5.15" fill="#7c7b78" stroke="#000" stroke-width="1.4"/>
<circle cx="144.9" cy="127.9" r="5.15" fill="#7c7b78" stroke="#000" stroke-width="1.4"/>
<circle cx="130.9" cy="140.9" r="5.15" fill="#000" stroke="#000" stroke-width="1.4"/>
<circle cx="117.0" cy="144.7" r="5.15" fill="#414d6b" stroke="#000" stroke-width="1.4"/>
<circle cx="34.1" cy="94.4" r="5.15" fill="#000" stroke="#000" stroke-width="1.4"/>
<circle cx="49.4" cy="96.1" r="5.15" fill="#000" stroke="#000" stroke-width="1.4"/>
<circle cx="77.3" cy="88.5" r="5.15" fill="#000" stroke="#000" stroke-width="1.4"/>
<circle cx="67.9" cy="100.4" r="5.15" fill="#000" stroke="#000" stroke-width="1.4"/>
<circle cx="46.3" cy="118.3" r="5.15" fill="#000" stroke="#000" stroke-width="1.4"/>
</g>
<rect x="5.9" y="23.4" width="199.29999999999998" height="148.6" fill="none" stroke="#1a1a1a" stroke-width="1.25"/>
<line x1="0.9000000000000004" y1="52.7" x2="5.9" y2="52.7" stroke="#1a1a1a" stroke-width="1.2"/>
<line x1="0.9000000000000004" y1="80.4" x2="5.9" y2="80.4" stroke="#1a1a1a" stroke-width="1.2"/>
<line x1="0.9000000000000004" y1="108.4" x2="5.9" y2="108.4" stroke="#1a1a1a" stroke-width="1.2"/>
<line x1="0.9000000000000004" y1="136.6" x2="5.9" y2="136.6" stroke="#1a1a1a" stroke-width="1.2"/>
<line x1="0.9000000000000004" y1="164.6" x2="5.9" y2="164.6" stroke="#1a1a1a" stroke-width="1.2"/>
<line x1="24.9" y1="172.0" x2="24.9" y2="177.0" stroke="#1a1a1a" stroke-width="1.2"/>
<line x1="52.9" y1="172.0" x2="52.9" y2="177.0" stroke="#1a1a1a" stroke-width="1.2"/>
<line x1="81.1" y1="172.0" x2="81.1" y2="177.0" stroke="#1a1a1a" stroke-width="1.2"/>
<line x1="109.3" y1="172.0" x2="109.3" y2="177.0" stroke="#1a1a1a" stroke-width="1.2"/>
<line x1="137.5" y1="172.0" x2="137.5" y2="177.0" stroke="#1a1a1a" stroke-width="1.2"/>
<line x1="165.7" y1="172.0" x2="165.7" y2="177.0" stroke="#1a1a1a" stroke-width="1.2"/>
<line x1="193.9" y1="172.0" x2="193.9" y2="177.0" stroke="#1a1a1a" stroke-width="1.2"/>
<text x="25.90" y="14.0" textLength="96.30" lengthAdjust="spacingAndGlyphs">(d) #19148,</text>
<text x="124.10" y="14.0" textLength="60.90" lengthAdjust="spacingAndGlyphs"><tspan font-style="italic">TS</tspan>=0.5</text>
</g>
<g transform="translate(239.3,191.4)">
<clipPath id="cpe"><rect x="5.9" y="23.4" width="199.29999999999998" height="148.6"/></clipPath>
<g clip-path="url(#cpe)">
<use href="#landfill"/>
<use href="#landline"/>
<g clip-path="url(#dom)">
<path d="M9.9,168.5 L9.9,159.4 L13.7,155.6 L14.4,151.9 L18.1,151.2 L24.1,145.2 L30.8,138.5 L31.6,135.5 L34.6,133.2 L40.5,126.5 L43.0,124.0 L48.0,118.0 L51.3,114.0 L52.1,109.9 L55.0,107.5 L61.1,100.9 L65.2,96.9 L70.9,93.6 L77.2,90.4 L83.5,89.4 L87.7,88.8 L93.4,88.8 L97.1,92.0 L102.4,96.2 L106.0,100.4 L106.6,103.0 L108.7,108.8 L109.7,114.0 L107.6,114.6 L104.5,117.2 L99.2,121.4 L93.4,125.6 L93.3,126.9 L97.5,131.8 L103.1,138.1 L108.6,143.6 L113.5,149.2 L115.6,154.1 L114.9,156.9 L117.7,159.7 L118.2,168.5 Z" fill="#00224e"/>
<path d="M13.7,168.5 L13.7,160.1 L18.1,154.9 L25.6,148.2 L33.1,140.7 L39.0,134.0 L45.0,127.3 L50.0,121.5 L52.1,114.8 L56.2,111.6 L61.9,103.4 L65.2,100.5 L71.9,95.1 L82.4,91.0 L91.9,90.4 L97.1,94.1 L102.4,98.3 L105.0,102.5 L108.7,109.8 L108.7,113.5 L103.4,117.2 L98.0,121.8 L92.3,126.0 L92.3,127.5 L96.5,132.5 L102.0,138.8 L107.5,144.5 L112.3,150.0 L114.2,155.0 L114.2,168.5 Z" fill="#414d6b"/>
<path d="M19.6,168.5 L21.1,163.9 L25.6,157.9 L31.6,153.4 L37.6,147.4 L43.5,140.0 L49.5,132.5 L52.0,128.0 L56.2,124.0 L61.4,121.9 L66.7,120.9 L73.0,121.4 L77.2,123.0 L80.7,126.2 L89.1,129.0 L94.7,134.6 L98.9,141.5 L101.7,149.9 L103.1,158.3 L103.1,168.5 Z" fill="#7c7b78"/>
<path d="M84.5,105.1 L87.7,104.6 L91.9,105.6 L96.1,106.2 L99.2,104.6 L102.4,103.0 L106.0,104.6 L108.7,109.3 L107.6,111.9 L104.5,114.0 L101.3,115.1 L98.2,117.2 L95.0,118.2 L91.9,117.2 L88.7,114.0 L86.1,109.8 L84.5,107.2 Z" fill="#7c7b78"/>
<path d="M84.7,117.4 L85.6,118.3 L84.7,119.2 L83.8,118.3 Z" fill="#00224e"/>
<path d="M42.0,168.5 L42.5,167.3 L46.5,166.1 L51.0,165.6 L52.5,168.5 Z" fill="#bcaf6f"/>
</g>
<circle cx="49.7" cy="69.3" r="5.15" fill="#000" stroke="#000" stroke-width="1.4"/>
<circle cx="78.5" cy="48.0" r="5.15" fill="#000" stroke="#000" stroke-width="1.4"/>
<circle cx="147.3" cy="55.2" r="5.15" fill="#000" stroke="#000" stroke-width="1.4"/>
<circle cx="106.3" cy="67.7" r="5.15" fill="#000" stroke="#000" stroke-width="1.4"/>
<circle cx="177.5" cy="66.8" r="5.15" fill="#000" stroke="#000" stroke-width="1.4"/>
<circle cx="168.0" cy="104.5" r="5.15" fill="#000" stroke="#000" stroke-width="1.4"/>
<circle cx="79.6" cy="139.1" r="5.15" fill="#7c7b78" stroke="#000" stroke-width="1.4"/>
<circle cx="144.9" cy="127.9" r="5.15" fill="#000" stroke="#000" stroke-width="1.4"/>
<circle cx="130.9" cy="140.9" r="5.15" fill="#000" stroke="#000" stroke-width="1.4"/>
<circle cx="117.0" cy="144.7" r="5.15" fill="#414d6b" stroke="#000" stroke-width="1.4"/>
<circle cx="34.1" cy="94.4" r="5.15" fill="#000" stroke="#000" stroke-width="1.4"/>
<circle cx="49.4" cy="96.1" r="5.15" fill="#000" stroke="#000" stroke-width="1.4"/>
<circle cx="77.3" cy="88.5" r="5.15" fill="#000" stroke="#000" stroke-width="1.4"/>
<circle cx="67.9" cy="100.4" r="5.15" fill="#bcaf6f" stroke="#000" stroke-width="1.4"/>
<circle cx="46.3" cy="118.3" r="5.15" fill="#7c7b78" stroke="#000" stroke-width="1.4"/>
</g>
<rect x="5.9" y="23.4" width="199.29999999999998" height="148.6" fill="none" stroke="#1a1a1a" stroke-width="1.25"/>
<line x1="0.9000000000000004" y1="52.7" x2="5.9" y2="52.7" stroke="#1a1a1a" stroke-width="1.2"/>
<line x1="0.9000000000000004" y1="80.4" x2="5.9" y2="80.4" stroke="#1a1a1a" stroke-width="1.2"/>
<line x1="0.9000000000000004" y1="108.4" x2="5.9" y2="108.4" stroke="#1a1a1a" stroke-width="1.2"/>
<line x1="0.9000000000000004" y1="136.6" x2="5.9" y2="136.6" stroke="#1a1a1a" stroke-width="1.2"/>
<line x1="0.9000000000000004" y1="164.6" x2="5.9" y2="164.6" stroke="#1a1a1a" stroke-width="1.2"/>
<line x1="24.9" y1="172.0" x2="24.9" y2="177.0" stroke="#1a1a1a" stroke-width="1.2"/>
<line x1="52.9" y1="172.0" x2="52.9" y2="177.0" stroke="#1a1a1a" stroke-width="1.2"/>
<line x1="81.1" y1="172.0" x2="81.1" y2="177.0" stroke="#1a1a1a" stroke-width="1.2"/>
<line x1="109.3" y1="172.0" x2="109.3" y2="177.0" stroke="#1a1a1a" stroke-width="1.2"/>
<line x1="137.5" y1="172.0" x2="137.5" y2="177.0" stroke="#1a1a1a" stroke-width="1.2"/>
<line x1="165.7" y1="172.0" x2="165.7" y2="177.0" stroke="#1a1a1a" stroke-width="1.2"/>
<line x1="193.9" y1="172.0" x2="193.9" y2="177.0" stroke="#1a1a1a" stroke-width="1.2"/>
<text x="26.50" y="14.0" textLength="93.10" lengthAdjust="spacingAndGlyphs">(e) #19127,</text>
<text x="120.90" y="14.0" textLength="63.30" lengthAdjust="spacingAndGlyphs"><tspan font-style="italic">TS</tspan>=0.6</text>
</g>
<g transform="translate(478.6,191.4)">
<clipPath id="cpf"><rect x="5.9" y="23.4" width="199.29999999999998" height="148.6"/></clipPath>
<g clip-path="url(#cpf)">
<use href="#landfill"/>
<use href="#landline"/>
<g clip-path="url(#dom)">
<path d="M5.0,89.7 L11.2,89.0 L16.4,87.1 L18.4,85.5 L26.9,85.5 L29.5,88.4 L35.0,90.5 L39.8,93.3 L43.7,94.2 L49.1,94.0 L54.6,96.9 L60.7,101.2 L63.0,101.3 L73.3,101.5 L77.7,101.9 L88.2,101.9 L90.0,104.1 L92.6,109.3 L95.2,109.8 L98.7,108.2 L101.3,106.0 L105.7,105.6 L106.3,108.9 L104.0,111.3 L100.4,113.9 L95.2,116.6 L90.8,119.2 L86.4,121.8 L80.3,122.7 L75.9,124.0 L73.3,126.4 L69.4,126.5 L63.4,127.8 L60.6,130.0 L38.2,130.0 L35.4,127.6 L26.3,127.2 L24.2,124.4 L20.4,121.8 L16.4,118.6 L9.3,117.9 L6.3,116.6 L5.0,116.6 Z" fill="#00224e"/>
<path d="M5.0,90.8 L11.5,90.2 L17.5,89.0 L19.3,88.0 L26.3,88.0 L29.0,89.6 L34.7,91.4 L39.8,94.0 L43.7,94.9 L49.0,94.8 L54.4,97.7 L60.5,101.9 L63.0,102.0 L73.3,102.2 L77.7,102.6 L87.8,102.6 L89.4,104.7 L92.2,110.0 L95.2,110.5 L98.9,108.8 L101.5,106.8 L105.2,106.5 L105.5,108.7 L103.6,110.7 L100.0,113.2 L94.8,115.9 L90.4,118.5 L86.0,121.1 L80.0,122.0 L75.5,123.3 L72.8,125.6 L69.4,125.8 L63.4,127.1 L60.4,129.2 L38.5,129.2 L35.6,126.9 L27.0,125.8 L24.5,123.8 L20.8,121.1 L17.0,117.9 L10.0,116.4 L6.8,115.6 L5.0,115.6 Z" fill="#414d6b"/>
<path d="M5.0,99.0 L6.5,97.0 L8.6,95.6 L12.5,93.0 L17.4,91.4 L23.0,91.7 L28.0,92.0 L34.0,93.3 L39.8,94.8 L41.5,95.9 L45.0,97.5 L50.0,99.5 L54.6,101.4 L60.2,102.6 L66.0,103.0 L73.3,102.8 L80.3,102.4 L86.4,102.4 L89.1,105.0 L90.8,109.4 L92.6,110.7 L96.9,109.8 L100.4,108.0 L103.9,107.2 L104.8,108.9 L102.2,111.1 L96.9,113.3 L91.7,116.4 L86.4,119.0 L81.2,120.8 L75.9,122.1 L69.4,123.4 L63.4,124.1 L56.4,125.2 L49.4,125.9 L42.4,125.5 L35.4,124.1 L29.8,122.7 L24.9,120.6 L21.4,119.2 L17.7,117.1 L12.5,115.1 L8.6,112.5 L6.5,108.0 L5.0,104.0 Z" fill="#7c7b78"/>
<path d="M14.5,101.4 L16.4,98.2 L17.4,97.0 L21.9,95.9 L25.8,97.0 L28.6,98.1 L33.0,99.0 L38.7,99.8 L40.9,102.0 L43.7,104.8 L49.4,105.5 L54.6,105.1 L60.2,106.2 L65.8,107.9 L71.4,108.8 L75.9,108.5 L81.2,108.0 L84.7,107.2 L87.3,109.8 L84.7,112.4 L77.7,112.0 L72.4,113.0 L68.5,115.3 L60.0,117.6 L52.9,118.9 L45.0,119.3 L37.5,119.2 L31.9,117.8 L27.0,115.7 L21.4,113.3 L16.4,108.6 L14.5,104.7 Z" fill="#bcaf6f"/>
</g>
<circle cx="49.7" cy="69.3" r="5.15" fill="#000" stroke="#000" stroke-width="1.4"/>
<circle cx="78.5" cy="48.0" r="5.15" fill="#000" stroke="#000" stroke-width="1.4"/>
<circle cx="147.3" cy="55.2" r="5.15" fill="#000" stroke="#000" stroke-width="1.4"/>
<circle cx="106.3" cy="67.7" r="5.15" fill="#000" stroke="#000" stroke-width="1.4"/>
<circle cx="177.5" cy="66.8" r="5.15" fill="#000" stroke="#000" stroke-width="1.4"/>
<circle cx="168.0" cy="104.5" r="5.15" fill="#000" stroke="#000" stroke-width="1.4"/>
<circle cx="79.6" cy="139.1" r="5.15" fill="#000" stroke="#000" stroke-width="1.4"/>
<circle cx="144.9" cy="127.9" r="5.15" fill="#000" stroke="#000" stroke-width="1.4"/>
<circle cx="117.0" cy="144.7" r="5.15" fill="#000" stroke="#000" stroke-width="1.4"/>
<circle cx="34.1" cy="94.4" r="5.15" fill="#00224e" stroke="#000" stroke-width="1.4"/>
<circle cx="49.4" cy="96.1" r="5.15" fill="#7c7b78" stroke="#000" stroke-width="1.4"/>
<circle cx="77.3" cy="88.5" r="5.15" fill="#000" stroke="#000" stroke-width="1.4"/>
<circle cx="67.9" cy="100.4" r="5.15" fill="#bcaf6f" stroke="#000" stroke-width="1.4"/>
<circle cx="46.3" cy="118.3" r="5.15" fill="#414d6b" stroke="#000" stroke-width="1.4"/>
</g>
<rect x="5.9" y="23.4" width="199.29999999999998" height="148.6" fill="none" stroke="#1a1a1a" stroke-width="1.25"/>
<line x1="0.9000000000000004" y1="52.7" x2="5.9" y2="52.7" stroke="#1a1a1a" stroke-width="1.2"/>
<line x1="0.9000000000000004" y1="80.4" x2="5.9" y2="80.4" stroke="#1a1a1a" stroke-width="1.2"/>
<line x1="0.9000000000000004" y1="108.4" x2="5.9" y2="108.4" stroke="#1a1a1a" stroke-width="1.2"/>
<line x1="0.9000000000000004" y1="136.6" x2="5.9" y2="136.6" stroke="#1a1a1a" stroke-width="1.2"/>
<line x1="0.9000000000000004" y1="164.6" x2="5.9" y2="164.6" stroke="#1a1a1a" stroke-width="1.2"/>
<line x1="24.9" y1="172.0" x2="24.9" y2="177.0" stroke="#1a1a1a" stroke-width="1.2"/>
<line x1="52.9" y1="172.0" x2="52.9" y2="177.0" stroke="#1a1a1a" stroke-width="1.2"/>
<line x1="81.1" y1="172.0" x2="81.1" y2="177.0" stroke="#1a1a1a" stroke-width="1.2"/>
<line x1="109.3" y1="172.0" x2="109.3" y2="177.0" stroke="#1a1a1a" stroke-width="1.2"/>
<line x1="137.5" y1="172.0" x2="137.5" y2="177.0" stroke="#1a1a1a" stroke-width="1.2"/>
<line x1="165.7" y1="172.0" x2="165.7" y2="177.0" stroke="#1a1a1a" stroke-width="1.2"/>
<line x1="193.9" y1="172.0" x2="193.9" y2="177.0" stroke="#1a1a1a" stroke-width="1.2"/>
<text x="26.40" y="14.0" textLength="93.90" lengthAdjust="spacingAndGlyphs">(f) #19309,</text>
<text x="121.60" y="14.0" textLength="62.50" lengthAdjust="spacingAndGlyphs"><tspan font-style="italic">TS</tspan>=0.8</text>
</g>
<rect x="226.6" y="393.2" width="46.500000000000014" height="15.400000000000034" fill="#00224e"/>
<rect x="272.8" y="393.2" width="46.499999999999986" height="15.400000000000034" fill="#414d6b"/>
<rect x="319.0" y="393.2" width="46.499999999999986" height="15.400000000000034" fill="#7c7b78"/>
<rect x="365.2" y="393.2" width="46.499999999999986" height="15.400000000000034" fill="#bcaf6f"/>
<polygon points="411.4,393.2 457.5,400.9 411.4,408.6" fill="#fee838"/>
<text class="cb" x="215.2" y="427.3" textLength="22.4" lengthAdjust="spacingAndGlyphs">0.1</text>
<text class="cb" x="268.7" y="427.3" textLength="6.9" lengthAdjust="spacingAndGlyphs">1</text>
<text class="cb" x="309.1" y="427.3" textLength="19.1" lengthAdjust="spacingAndGlyphs">10</text>
<text class="cb" x="349.6" y="427.3" textLength="30.8" lengthAdjust="spacingAndGlyphs">100</text>
<text class="cb" x="389.8" y="427.3" textLength="43.6" lengthAdjust="spacingAndGlyphs">1000</text>
<text class="cb" x="189.6" y="427.5" font-style="italic" textLength="10.5" lengthAdjust="spacingAndGlyphs">L</text>
<text class="cb" x="441.2" y="426.1" textLength="10" lengthAdjust="spacingAndGlyphs">g</text>
<text class="cb" x="456.2" y="426.1" textLength="16.4" lengthAdjust="spacingAndGlyphs">m</text>
<text class="cb" x="472.6" y="419.8" style="font-size:9.8px;stroke-width:0.25px" textLength="11.8" lengthAdjust="spacingAndGlyphs">−2</text>
</svg>
</body></html>
